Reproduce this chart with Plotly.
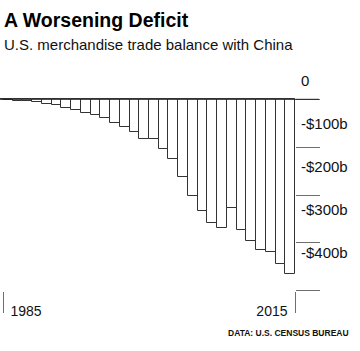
import plotly.graph_objects as go

# ---- data (US goods trade balance with China, $ billions) ----
years = list(range(1985, 2016))
balance = [-0.006, -1.7, -2.8, -3.5, -6.2, -10.4, -12.7, -18.3, -22.8, -29.5,
           -33.8, -39.5, -49.7, -56.9, -68.7, -83.8, -83.1, -103.1, -124.1, -162.3,
           -202.3, -234.1, -258.5, -268.0, -226.9, -273.0, -295.3, -315.1, -318.7, -344.8,
           -365.7]
y_ticks = [0, -100, -200, -300, -400]
y_ticktext = ["0", "-$100b", "-$200b", "-$300b", "-$400b"]
x_first_tick = [1985]
x_last_tick = [2015]

title = "A Worsening Deficit"
subtitle = "U.S. merchandise trade balance with China"
source = "DATA: U.S. CENSUS BUREAU"

# ---- layout geometry (pixels) ----
W, H = 360, 351
L, R, T, B = 0, 65, 60, 60
pw = W - L - R
ph = H - T - B
plot_bottom = T + ph

def px_x(p):
    return (p - L) / pw

def px_y(p):
    return (plot_bottom - p) / ph

# x: 1985 tick at px 3, 2015 tick at plot right edge
xppy = (pw - 3) / (x_last_tick[0] - x_first_tick[0])
xrange = [x_first_tick[0] - 3 / xppy, x_last_tick[0]]

# y (bars): 0 at px 99.3, -400 at px 290.8
zero_px, m400_px = 99.3, 290.8
s = (m400_px - zero_px) / 400.0
yrange = [-(plot_bottom - zero_px) / s, (zero_px - T) / s]

# y2 (labels): 0 label at px 81, -400 label at px 253
l0, l400 = 81.0, 253.0
s2 = (l400 - l0) / 400.0
y2range = [-(plot_bottom - l0) / s2, (l0 - T) / s2]

FONT = "Liberation Sans"
TICKC = "#6f6f6f"
TICKLEN = 24

fig = go.Figure()
fig.add_trace(go.Bar(
    x=years, y=balance, width=1, offset=-1,
    marker=dict(color="white", line=dict(color="#333333", width=1)),
    hoverinfo="x+y", showlegend=False,
))
# invisible trace carrying the secondary axes (labels)
fig.add_trace(go.Scatter(
    x=years, y=balance, xaxis="x2", yaxis="y2", mode="none",
    hoverinfo="skip", showlegend=False,
))

fig.update_layout(
    width=W, height=H,
    margin=dict(l=L, r=R, t=T, b=B, pad=0),
    paper_bgcolor="white", plot_bgcolor="white",
    font=dict(family=FONT, color="#111111"),
    bargap=0,
    xaxis=dict(
        range=xrange, showgrid=False, zeroline=False, showline=False,
        tickvals=x_first_tick, ticktext=[str(v) for v in x_first_tick],
        ticks="outside", ticklen=21, tickcolor=TICKC, tickwidth=1,
        ticklabelposition="outside right", ticklabelstandoff=7, ticklabelshift=7,
        tickfont=dict(size=14, color="#111111"),
        fixedrange=True,
    ),
    xaxis2=dict(
        range=xrange, overlaying="x", anchor="y2", showgrid=False, zeroline=False,
        showline=False,
        tickvals=x_last_tick, ticktext=[str(v) for v in x_last_tick],
        ticks="outside", ticklen=21, tickcolor=TICKC, tickwidth=1,
        ticklabelposition="outside left", ticklabelstandoff=7, ticklabelshift=-7,
        tickfont=dict(size=14, color="#111111"),
        side="bottom", fixedrange=True,
    ),
    yaxis=dict(
        range=yrange, side="right", showgrid=False, zeroline=False, showline=False,
        tickvals=y_ticks, showticklabels=False,
        ticks="outside", ticklen=TICKLEN, tickcolor=TICKC, tickwidth=1,
        fixedrange=True,
    ),
    yaxis2=dict(
        range=y2range, overlaying="y", anchor="x2", side="right",
        showgrid=False, zeroline=False, showline=False,
        tickvals=y_ticks, ticktext=y_ticktext, ticks="",
        ticklabelstandoff=5,
        tickfont=dict(size=15, color="#111111"),
        fixedrange=True,
    ),
    shapes=[dict(
        type="line", xref="paper", yref="y",
        x0=0, x1=1 + TICKLEN / pw, y0=0, y1=0,
        line=dict(color="#222222", width=1),
    )],
    annotations=[
        dict(text=title, xref="paper", yref="paper", x=px_x(2), y=px_y(19.5),
             xanchor="left", yanchor="middle", showarrow=False,
             font=dict(size=19.5, family=FONT, color="#000000", weight="bold")),
        dict(text=subtitle, xref="paper", yref="paper", x=px_x(2), y=px_y(44.5),
             xanchor="left", yanchor="middle", showarrow=False,
             font=dict(size=15, family=FONT, color="#111111")),
        dict(text=source, xref="paper", yref="paper", x=px_x(351), y=px_y(333),
             xanchor="right", yanchor="middle", showarrow=False,
             font=dict(size=8.5, family=FONT, color="#111111", weight="bold")),
    ],
)

fig.write_html("out.html", config={"displayModeBar": False})
